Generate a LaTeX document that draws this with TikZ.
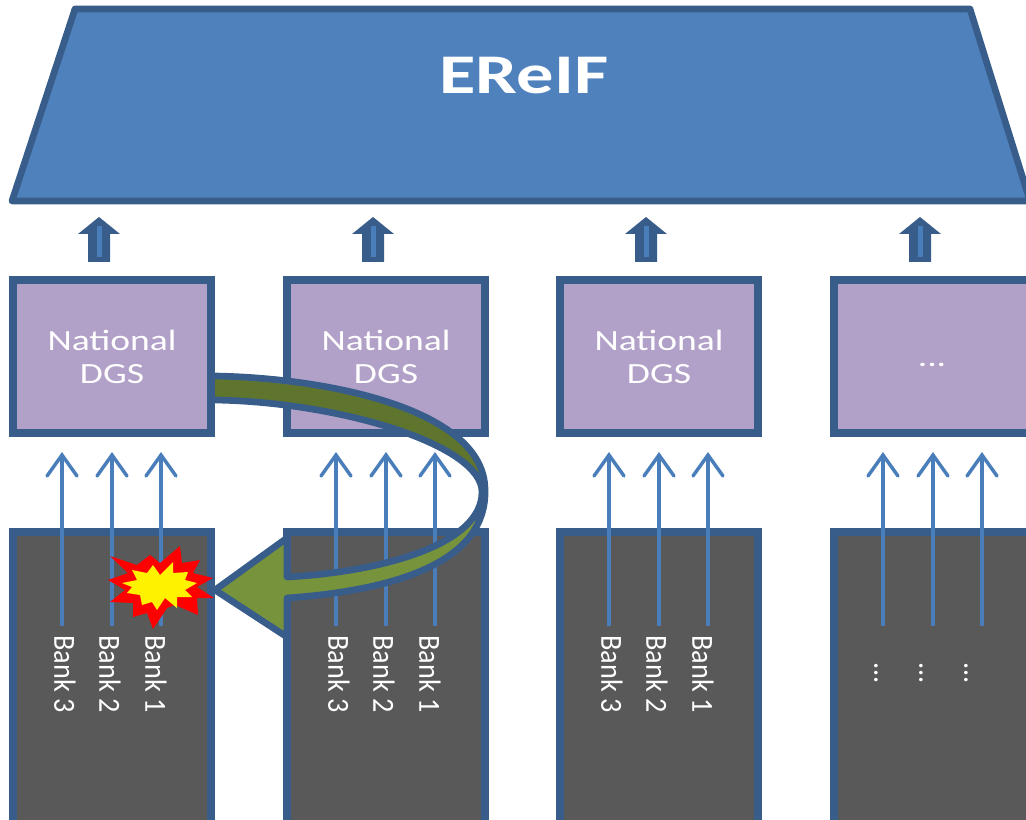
\documentclass[tikz,border=0pt]{standalone}
\usepackage{fontspec}
\setmainfont{Carlito}
\definecolor{edgeblue}{HTML}{385D8A}
\definecolor{thinblue}{HTML}{4A7EBB}
\definecolor{topblue}{HTML}{4F81BD}
\definecolor{lilac}{HTML}{B1A0C7}
\definecolor{darkbox}{HTML}{595959}
\definecolor{greenlight}{HTML}{77933C}
\definecolor{greendark}{HTML}{5F752E}
\tikzset{
  dgsbox/.style={draw=edgeblue,fill=lilac,line width=6pt,outer sep=0pt,minimum width=149pt,minimum height=115pt,inner sep=0pt,anchor=north west},
  bankbox/.style={draw=edgeblue,fill=darkbox,line width=6pt,outer sep=0pt,minimum width=149pt,minimum height=225pt,inner sep=0pt,anchor=north west},
  dgstext/.style={text=white,font=\fontsize{22pt}{24pt}\selectfont,align=center,inner sep=0pt,xscale=1.28},
  banktext/.style={text=white,font=\fontsize{23pt}{24pt}\selectfont,inner sep=0pt,rotate=-90,xscale=.92,anchor=center},
  thinarrow/.style={draw=thinblue,line width=2.6pt},
  thinhead/.style={draw=thinblue,line width=2.6pt,line cap=round,miter limit=10},
}
\begin{document}
\begin{tikzpicture}[x=0.75pt,y=-0.75pt]
\useasboundingbox (0,0) rectangle (1026,820);
\clip (0,0) rectangle (1026,820);
\draw[draw=edgeblue,fill=topblue,line width=5pt,line join=round] (75,9) -- (970,9) -- (1030,201) -- (12,201) -- cycle;
\node[text=white,font=\bfseries\fontsize{42pt}{44pt}\selectfont,xscale=1.33,inner sep=0pt] (ereif) at (524,76) {EReIF};
% columns
\foreach \i/\xx in {1/12.5,2/286.5,3/559.5,4/833.5}{
  \node[dgsbox] (dgs\i) at (\xx,280) {};
  \node[bankbox] (bank\i) at (\xx,532) {};
  \pgfmathsetmacro{\cx}{\xx+86.5}
  \fill[edgeblue] (\cx,217) -- (\cx+21,234) -- (\cx+11,234) -- (\cx+11,262) -- (\cx-11,262) -- (\cx-11,234) -- (\cx-21,234) -- cycle;
  \fill[thinblue] (\cx-2.5,226) rectangle (\cx+2.5,257);
  \foreach \j/\dx in {3/49.5,2/99.5,1/148.5}{
    \pgfmathsetmacro{\ax}{\xx+\dx}
    \coordinate (s\i\j) at (\ax,626);
    \coordinate (t\i\j) at (\ax,455);
    \draw[thinarrow] (s\i\j) -- (t\i\j);
    \draw[thinhead] (\ax-15,476) -- (t\i\j) -- (\ax+15,476);
  }
}
% labels
\foreach \i/\cx in {1/112,2/386,3/659}{
  \node[dgstext] (nat\i) at (\cx,340) {National};
  \node[dgstext] (d\i) at (\cx,374) {DGS};
  \node[banktext] (b3\i) at (\cx-47,674) {Bank 3};
  \node[banktext] (b2\i) at (\cx-2,674) {Bank 2};
  \node[banktext] (b1\i) at (\cx+44,674) {Bank 1};
}
\node[dgstext] (moredgs) at (932,365) {...};
\foreach \nm/\cx in {a/876,b/921,c/966}{
  \node[banktext] (dots\nm) at (\cx,673) {...};
}
% curved arrow
\fill[greenlight] (215,376) .. controls (330,378) and (485,410) .. (485,490)
  .. controls (487,560) and (400,590) .. (287,598) -- (287,637) -- (215,590) -- (287,538) -- (287,577)
  .. controls (380,572) and (482,545) .. (482,492) .. controls (482,445) and (340,402) .. (215,400) -- cycle;
\fill[greendark] (215,376) .. controls (330,378) and (485,410) .. (485,490)
  -- (482,492) .. controls (482,445) and (340,402) .. (215,400) -- cycle;
\draw[edgeblue,line width=5pt,line join=round] (215,376) .. controls (330,378) and (485,410) .. (485,490)
  .. controls (487,560) and (400,590) .. (287,598) -- (287,637) -- (215,590) -- (287,538) -- (287,577)
  .. controls (380,572) and (482,545) .. (482,492) .. controls (482,445) and (340,402) .. (215,400);
% explosion
\fill[red] (110,556) -- (137,565) -- (150,555) -- (160,563) -- (180,546) -- (182,563) -- (200,560) -- (193,573) -- (213,578) -- (197,587) -- (214,598) -- (197,598) -- (198,615) -- (175,605) -- (167,608) -- (153,629) -- (147,613) -- (133,617) -- (133,603) -- (110,602) -- (125,590) -- (108,580) -- (128,573) -- cycle;
\fill[yellow] (132,570) -- (147,573) -- (153,565) -- (160,575) -- (173,562) -- (173,573) -- (188,572) -- (185,580) -- (197,583) -- (185,590) -- (192,597) -- (177,597) -- (177,608) -- (165,598) -- (157,610) -- (152,602) -- (142,605) -- (140,595) -- (127,593) -- (132,587) -- (122,583) -- (137,580) -- cycle;
\end{tikzpicture}
\end{document}
